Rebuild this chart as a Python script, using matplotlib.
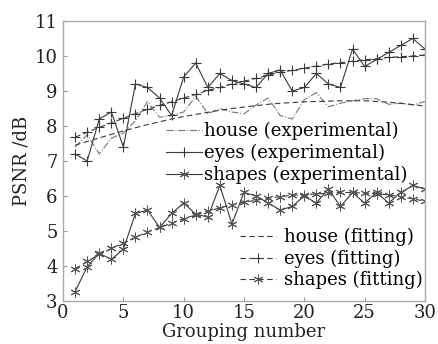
import numpy as np
import matplotlib
matplotlib.use('Agg')
import matplotlib.pyplot as plt

plt.rcParams['font.family'] = ['DejaVu Serif']
plt.rcParams['mathtext.fontset'] = 'dejavuserif'

groups = np.arange(1, 31)

house_exp = [7.4, 7.75, 7.2, 7.65, 7.8, 8.15, 8.7, 8.25, 8.3, 8.4,
             8.85, 8.35, 8.5, 8.4, 8.35, 8.6, 8.8, 8.3, 8.2, 8.75,
             8.95, 8.55, 8.65, 8.72, 8.78, 8.78, 8.62, 8.65, 8.6, 8.7]
eyes_exp = [7.2, 7.0, 8.2, 8.4, 7.4, 9.2, 9.1, 8.8, 8.3, 9.4,
            9.8, 9.1, 9.5, 9.3, 9.2, 9.1, 9.5, 9.6, 9.0, 9.1,
            9.5, 9.2, 9.1, 10.2, 9.7, 9.9, 10.1, 10.3, 10.5, 10.2]
shapes_exp = [3.27, 3.98, 4.36, 4.19, 4.48, 5.5, 5.6, 5.1, 5.5, 5.8,
              5.48, 5.4, 6.3, 5.2, 6.1, 6.0, 5.8, 5.6, 5.7, 6.0,
              5.8, 6.2, 5.7, 6.1, 5.8, 6.1, 5.8, 6.1, 6.3, 6.2]

house_fit = [7.45, 7.56, 7.66, 7.76, 7.86, 7.95, 8.04, 8.12, 8.2, 8.27,
             8.33, 8.39, 8.45, 8.5, 8.54, 8.58, 8.62, 8.65, 8.67, 8.69,
             8.7, 8.71, 8.72, 8.72, 8.72, 8.7, 8.68, 8.65, 8.61, 8.57]
eyes_fit = [7.68, 7.82, 7.96, 8.09, 8.22, 8.35, 8.48, 8.59, 8.69, 8.8,
            8.9, 9.02, 9.1, 9.2, 9.28, 9.36, 9.45, 9.53, 9.59, 9.65,
            9.71, 9.77, 9.81, 9.85, 9.89, 9.92, 9.96, 9.98, 10.0, 10.03]
shapes_fit = [3.92, 4.13, 4.33, 4.5, 4.66, 4.82, 4.97, 5.1, 5.22, 5.35,
              5.46, 5.56, 5.66, 5.75, 5.82, 5.88, 5.94, 5.98, 6.02, 6.04,
              6.06, 6.08, 6.1, 6.1, 6.08, 6.07, 6.03, 5.98, 5.92, 5.85]

dark = '#3a3a3a'
light = '#777777'
star = (6, 2, 0)  # asterisk marker

fig = plt.figure(figsize=(4.38, 3.44), dpi=100)
ax = fig.add_axes([0.144, 0.125, 0.826, 0.814])

l1, = ax.plot(groups, house_exp, color=light, lw=0.8, ls='-.',
              label='house (experimental)')
l2, = ax.plot(groups, eyes_exp, color=dark, lw=0.8, marker='+', ms=7,
              mew=0.8, label='eyes (experimental)')
l3, = ax.plot(groups, shapes_exp, color=dark, lw=0.8, marker=star, ms=7,
              mew=0.7, mec='#555555', label='shapes (experimental)')
l4, = ax.plot(groups, house_fit, color=dark, lw=0.8, ls=(0, (5, 3)),
              label='house (fitting)')
l5, = ax.plot(groups, eyes_fit, color=dark, lw=0.8, ls=(0, (5, 3)),
              marker='+', ms=7, mew=0.8, label='eyes (fitting)')
l6, = ax.plot(groups, shapes_fit, color=dark, lw=0.8, ls=(0, (5, 3)),
              marker=star, ms=7, mew=0.7, mec='#555555',
              label='shapes (fitting)')

ax.set_xlim(0, 30)
ax.set_ylim(3, 11)
ax.set_xticks(range(0, 31, 5))
ax.set_yticks(range(3, 12))
ax.tick_params(direction='in', length=3, color='#999999', labelsize=13,
               labelcolor='#222222')
ax.tick_params(axis='y', pad=4)
ax.tick_params(axis='x', pad=2)
for s in ax.spines.values():
    s.set_color('#aaaaaa')
    s.set_linewidth(1.0)

ax.set_xlabel('Grouping number', fontsize=13, labelpad=1, color='#222222')
ax.set_ylabel('PSNR /dB', fontsize=13, labelpad=3, color='#222222')

leg1 = ax.legend(handles=[l1, l2, l3], loc='upper left',
                 bbox_to_anchor=(0.285, 0.64), frameon=False, fontsize=13,
                 borderpad=0, borderaxespad=0, handlelength=2.0,
                 handletextpad=0.1, labelspacing=0.22)
ax.add_artist(leg1)
ax.legend(handles=[l4, l5, l6], loc='upper left',
          bbox_to_anchor=(0.49, 0.26), frameon=False, fontsize=13,
          borderpad=0, borderaxespad=0, handlelength=2.0,
          handletextpad=0.4, labelspacing=0.18)

fig.savefig('out.png', dpi=100)
